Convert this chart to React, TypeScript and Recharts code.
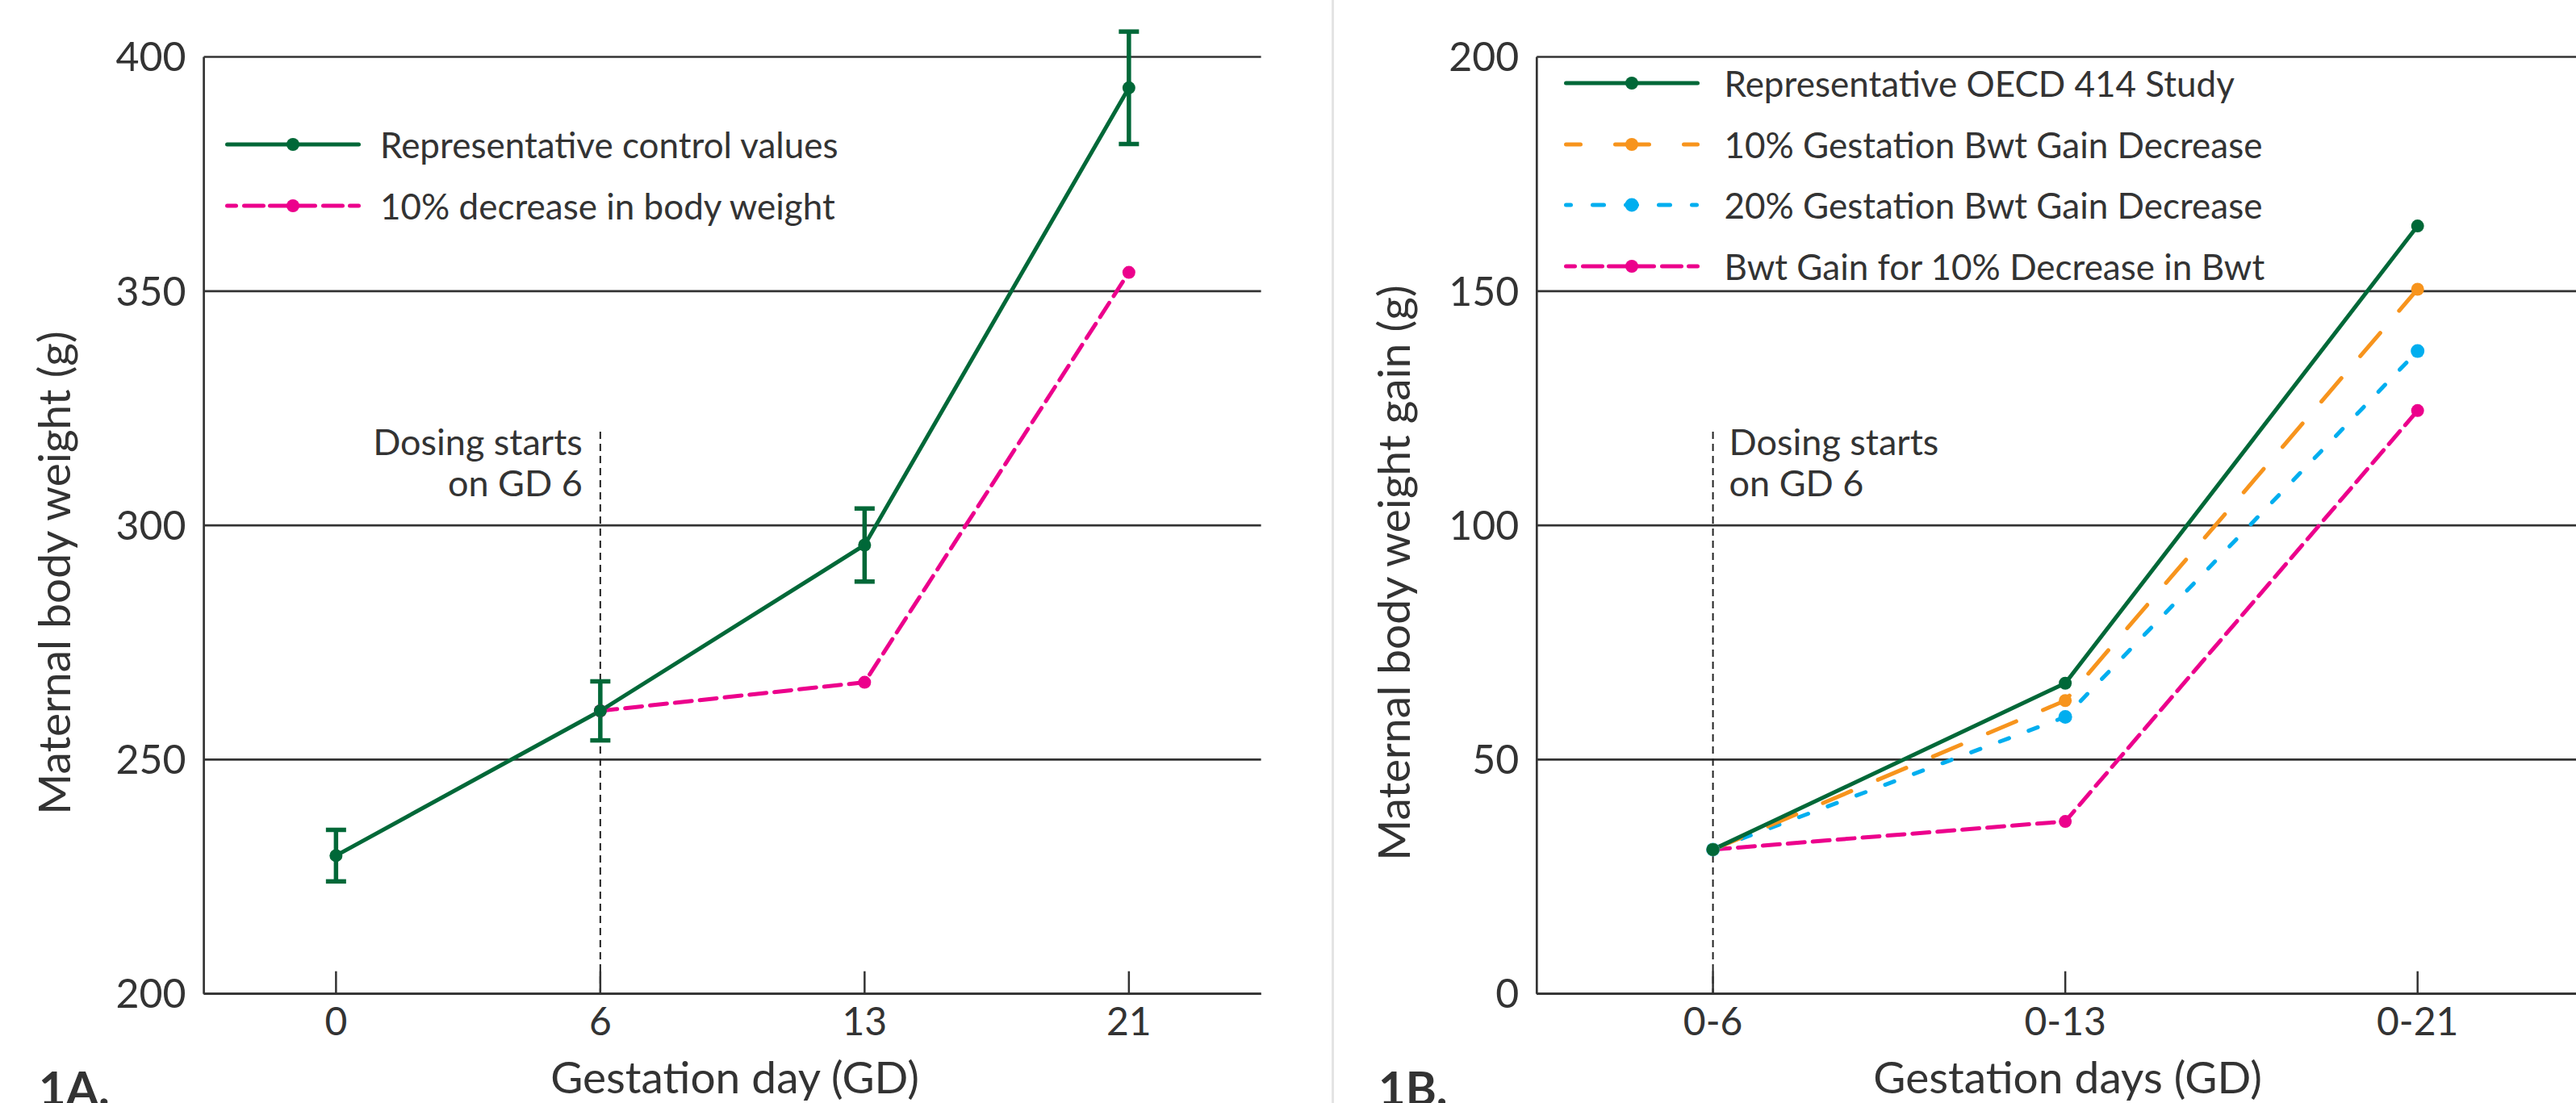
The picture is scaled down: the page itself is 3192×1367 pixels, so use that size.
import React from 'react';
import { LineChart, Line, XAxis, YAxis, CartesianGrid, ErrorBar, ReferenceLine, Legend, Label } from 'recharts';

const FONT = 'Lato, "Noto Sans", sans-serif';
const INK = '#333333';
const GREEN = '#006838';
const PINK = '#ec008c';
const ORANGE = '#f7941d';
const BLUE = '#00aeef';

// 1A - maternal body weight by gestation day
const dayLabels = ['0', '6', '13', '21'];
const controlWeight = [229.5, 260.4, 295.8, 393.4];
const controlSd = [5.5, 6.3, 7.8, 12];
const decreasedWeight = [null, 260.4, 266.5, 354.0];
const weightTicks = [200, 250, 300, 350, 400];

// 1B - cumulative body weight gain
const gainLabels = ['0-6', '0-13', '0-21'];
const oecdGain = [30.8, 66.3, 163.9];
const gainDecrease10 = [30.8, 62.6, 150.4];
const gainDecrease20 = [30.8, 59.1, 137.2];
const gainForBwtDecrease = [30.8, 36.8, 124.5];
const gainTicks = [0, 50, 100, 150, 200];

const weightData = dayLabels.map((d, i) => ({
  day: d,
  control: controlWeight[i],
  sd: controlSd[i],
  decreased: decreasedWeight[i],
}));

const gainData = gainLabels.map((d, i) => ({
  day: d,
  oecd: oecdGain[i],
  dec10: gainDecrease10[i],
  dec20: gainDecrease20[i],
  bwt10: gainForBwtDecrease[i],
}));

type Series = { key: string; name: string; color: string; dash?: string; legendDash?: string; r: number };

const PINK_LEGEND = '11 10 24 8 24 8 24 10 24 9 11';

const weightSeries: Series[] = [
  { key: 'control', name: 'Representative control values', color: GREEN, r: 8 },
  { key: 'decreased', name: '10% decrease in body weight', color: PINK, dash: '21 10', legendDash: PINK_LEGEND, r: 8 },
];

const gainSeries: Series[] = [
  { key: 'oecd', name: 'Representative OECD 414 Study', color: GREEN, r: 8 },
  { key: 'dec10', name: '10% Gestation Bwt Gain Decrease', color: ORANGE, dash: '38 36', legendDash: '18 43 42 43 18', r: 8 },
  { key: 'dec20', name: '20% Gestation Bwt Gain Decrease', color: BLUE, dash: '12 26', legendDash: '6 27 14 27 14 27 14 27 6', r: 8.5 },
  { key: 'bwt10', name: 'Bwt Gain for 10% Decrease in Bwt', color: PINK, dash: '21 10', legendDash: PINK_LEGEND, r: 8 },
];

function LegendBlock({ items, gap }: { items: Series[]; gap: number }) {
  return (
    <div>
      {items.map(it => (
        <div key={it.key} style={{ display: 'flex', alignItems: 'center', height: 75.5 }}>
          <svg width={168} height={24} style={{ display: 'block' }}>
            <line x1={2.5} x2={165.5} y1={12} y2={12} stroke={it.color} strokeWidth={5}
              strokeDasharray={it.legendDash} strokeLinecap="round" />
            <circle cx={84} cy={12} r={it.r} fill={it.color} />
          </svg>
          <span style={{ marginLeft: gap, fontSize: 44, color: INK, fontFamily: FONT, lineHeight: 1, whiteSpace: 'nowrap' }}>
            {it.name}
          </span>
        </div>
      ))}
    </div>
  );
}

function DayTick(props: any) {
  const { x, y, payload } = props;
  return (
    <g>
      <line x1={x} x2={x} y1={y} y2={y - 28} stroke={INK} strokeWidth={2.5} />
      <text x={x} y={y + 51} textAnchor="middle" fontSize={48} fontFamily={FONT} fill={INK}>{payload.value}</text>
    </g>
  );
}

function dosingNote(side: 'left' | 'right') {
  return (props: any) => {
    const vb = props.viewBox || { x: 0, y: 0 };
    const x = side === 'left' ? vb.x - 22 : vb.x + 20;
    return (
      <text x={x} y={vb.y + 29} textAnchor={side === 'left' ? 'end' : 'start'} fontSize={45} fontFamily={FONT} fill={INK}>
        <tspan x={x}>Dosing starts</tspan>
        <tspan x={x} dy={51}>on GD 6</tspan>
      </text>
    );
  };
}

const W = 1600;
const H = 1367;
const Y_AXIS_W = 120;
const X_AXIS_H = 100;

interface PanelProps {
  left: number;
  margin: { top: number; right: number; bottom: number; left: number };
  data: any[];
  nCats: number;
  domain: [number, number];
  ticks: number[];
  series: Series[];
  withError: boolean;
  refCat: string;
  refTop: number;
  noteSide: 'left' | 'right';
  xTitle: string;
  yTitle: string;
  legendLeft: number;
  legendTop: number;
  legendGap: number;
  tag: string;
}

function Panel(p: PanelProps) {
  const plotW = W - p.margin.left - p.margin.right - Y_AXIS_W;
  const plotLeft = p.margin.left + Y_AXIS_W;
  const pad = plotW / (2 * p.nCats);
  const plotTop = p.margin.top;
  const plotH = H - p.margin.top - p.margin.bottom - X_AXIS_H;
  // draw order: green last so its dots sit on top
  const drawOrder = [...p.series].reverse();
  return (
    <div style={{ position: 'absolute', left: p.left, top: 0, width: W, height: H }}>
      <LineChart width={W} height={H} data={p.data} margin={p.margin}>
        <CartesianGrid vertical={false} stroke={INK} strokeWidth={2.7} />
        <XAxis dataKey="day" type="category" interval={0} height={X_AXIS_H}
          padding={{ left: pad, right: pad }}
          axisLine={{ stroke: INK, strokeWidth: 2.7 }} tickLine={false} tickSize={0} tickMargin={0}
          tick={<DayTick />}>
          <Label content={() => (
            <text x={plotLeft + plotW / 2 + 3} y={1355} textAnchor="middle" fontSize={55} fontFamily={FONT} fill={INK}>
              {p.xTitle}
            </text>
          )} />
        </XAxis>
        <YAxis type="number" domain={p.domain} ticks={p.ticks} interval={0} width={Y_AXIS_W} allowDataOverflow
          axisLine={{ stroke: INK, strokeWidth: 2.7 }} tickLine={false} tickSize={0} tickMargin={22}
          tick={{ fontSize: 50, fill: INK, fontFamily: FONT }}>
          <Label content={() => (
            <text x={87} y={plotTop + plotH / 2 + 59} transform={`rotate(-90 87 ${plotTop + plotH / 2 + 59})`}
              textAnchor="middle" fontSize={55} fontFamily={FONT} fill={INK}>
              {p.yTitle}
            </text>
          )} />
        </YAxis>
        <ReferenceLine segment={[{ x: p.refCat, y: p.refTop }, { x: p.refCat, y: p.domain[0] }]}
          stroke="#222" strokeWidth={2} strokeDasharray="9 6" label={dosingNote(p.noteSide)} />
        {drawOrder.map(s => (
          <Line key={s.key} type="linear" dataKey={s.key} name={s.name} stroke={s.color} strokeWidth={5}
            strokeDasharray={s.dash} strokeLinecap="round"
            dot={{ r: s.r, fill: s.color, stroke: s.color, strokeWidth: 0 }} activeDot={false}
            isAnimationActive={false}>
            {p.withError && s.key === 'control' ? (
              <ErrorBar dataKey="sd" direction="y" width={12.5} strokeWidth={5.5} stroke={GREEN} isAnimationActive={false} />
            ) : null}
          </Line>
        ))}
        <Legend layout="horizontal" verticalAlign="middle" align="center"
          wrapperStyle={{ left: p.legendLeft, top: p.legendTop, width: 'auto', height: 'auto' }}
          content={() => <LegendBlock items={p.series} gap={p.legendGap} />} />
      </LineChart>
      <div style={{ position: 'absolute', left: 48, top: 1319, fontFamily: FONT, fontWeight: 700,
        fontSize: 58, lineHeight: '58px', color: INK }}>{p.tag}</div>
    </div>
  );
}

export default function App() {
  return (
    <div style={{ position: 'absolute', left: 0, top: 0, width: 3192, height: 1367, overflow: 'hidden', background: '#fff' }}>
      <Panel
        left={0}
        margin={{ top: 70.5, right: 37.4, bottom: 35.3, left: 132.6 }}
        data={weightData}
        nCats={dayLabels.length}
        domain={[200, 400]}
        ticks={weightTicks}
        series={weightSeries}
        withError
        refCat="6"
        refTop={320}
        noteSide="left"
        xTitle="Gestation day (GD)"
        yTitle="Maternal body weight (g)"
        legendLeft={279}
        legendTop={141.5}
        legendGap={24}
        tag="1A."
      />
      <div style={{ position: 'absolute', left: 1650, top: 0, width: 3.4, height: 1367, background: '#e4e4e4' }} />
      <Panel
        left={1660}
        margin={{ top: 70.5, right: 46, bottom: 35.3, left: 124.3 }}
        data={gainData}
        nCats={gainLabels.length}
        domain={[0, 200]}
        ticks={gainTicks}
        series={gainSeries}
        withError={false}
        refCat="0-6"
        refTop={120}
        noteSide="right"
        xTitle="Gestation days (GD)"
        yTitle="Maternal body weight gain (g)"
        legendLeft={277.5}
        legendTop={65.5}
        legendGap={31}
        tag="1B."
      />
    </div>
  );
}
